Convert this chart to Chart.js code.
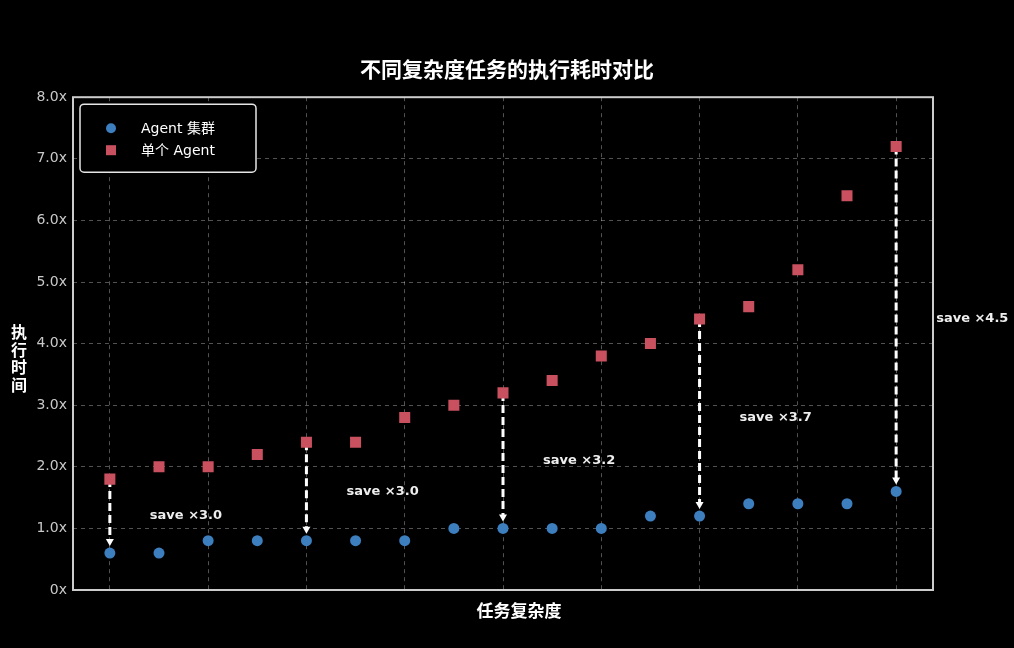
<!DOCTYPE html>
<html>
<head>
<meta charset="utf-8">
<script src="https://cdn.jsdelivr.net/npm/chart.js@4.4.1/dist/chart.umd.min.js"></script>
<style>
  html, body { margin: 0; padding: 0; background: #000; }
  #wrap { width: 1014px; height: 648px; }
</style>
</head>
<body>
<div id="wrap"><canvas id="timecmp"></canvas></div>
<script>
// task index (complexity order)
const tasks = [0, 1, 2, 3, 4, 5, 6, 7, 8, 9, 10, 11, 12, 13, 14, 15, 16];
const clusterTime = [0.6, 0.6, 0.8, 0.8, 0.8, 0.8, 0.8, 1.0, 1.0, 1.0, 1.0, 1.2, 1.2, 1.4, 1.4, 1.4, 1.6];
const singleTime = [1.8, 2.0, 2.0, 2.2, 2.4, 2.4, 2.8, 3.0, 3.2, 3.4, 3.8, 4.0, 4.4, 4.6, 5.2, 6.4, 7.2];
const arrowAt = [0, 4, 8, 12, 16];
const saveLabels = ["save ×3.0", "save ×3.0", "save ×3.2", "save ×3.7", "save ×4.5"];
const gridTicks = [0, 2, 4, 6, 8, 10, 12, 14, 16];

const BLUE = "#3d7ebf";
const RED = "#c9505f";
const CJK = "'DejaVu Sans', 'Noto Sans CJK SC', sans-serif";

const overlay = {
  id: "overlay",
  beforeDraw(chart) {
    const c = chart.ctx;
    c.save();
    c.fillStyle = "#000";
    c.fillRect(0, 0, chart.width, chart.height);
    c.restore();
  },
  beforeDatasetsDraw(chart) {
    const c = chart.ctx;
    const xs = chart.scales.x, ys = chart.scales.y;
    c.save();
    arrowAt.forEach(function (i, k) {
      const x = xs.getPixelForValue(tasks[i]);
      const y0 = ys.getPixelForValue(singleTime[i]);
      const y1 = ys.getPixelForValue(clusterTime[i]) - 7;
      c.strokeStyle = "#fff";
      c.lineWidth = 3;
      c.setLineDash([8, 4]);
      c.beginPath();
      c.moveTo(x, y0);
      c.lineTo(x, y1 - 5);
      c.stroke();
      c.setLineDash([]);
      c.fillStyle = "#fff";
      c.beginPath();
      c.moveTo(x - 4, y1 - 7);
      c.lineTo(x + 4, y1 - 7);
      c.lineTo(x, y1);
      c.closePath();
      c.fill();
      // ratio label
      const ym = ys.getPixelForValue((singleTime[i] + clusterTime[i]) / 2);
      c.font = "bold 13px 'DejaVu Sans', sans-serif";
      c.fillStyle = "#eeeeee";
      c.textAlign = "left";
      c.textBaseline = "middle";
      c.fillText(saveLabels[k], x + 40, ym);
    });
    c.restore();
  },
  afterDraw(chart) {
    const c = chart.ctx;
    const a = chart.chartArea;
    c.save();
    // frame
    c.strokeStyle = "#cccccc";
    c.lineWidth = 2;
    c.strokeRect(a.left, a.top, a.right - a.left, a.bottom - a.top);
    // axis titles
    c.font = "bold 17px 'Noto Sans CJK SC', sans-serif";
    c.fillStyle = "#fff";
    c.textAlign = "center";
    c.textBaseline = "middle";
    c.fillText("任务复杂度", 519, 611);
    c.font = "bold 16px 'Noto Sans CJK SC', sans-serif";
    ["执", "行", "时", "间"].forEach(function (ch, j) {
      c.fillText(ch, 19, 332 + j * 17.5);
    });
    // legend
    const lx = a.left + 7, ly = a.top + 7, lw = 176, lh = 68;
    c.fillStyle = "#000";
    c.strokeStyle = "#e6e6e6";
    c.lineWidth = 1.5;
    c.beginPath();
    c.roundRect(lx, ly, lw, lh, 4);
    c.fill();
    c.stroke();
    c.fillStyle = BLUE;
    c.beginPath();
    c.arc(lx + 31, ly + 24, 5, 0, Math.PI * 2);
    c.fill();
    c.fillStyle = RED;
    c.fillRect(lx + 26, ly + 41, 10, 10);
    c.font = "14px " + CJK;
    c.fillStyle = "#fff";
    c.textAlign = "left";
    c.fillText(chart.data.datasets[0].label, lx + 61, ly + 25);
    c.fillText(chart.data.datasets[1].label, lx + 61, ly + 47);
    c.restore();
  }
};

const chart = new Chart(document.getElementById("timecmp"), {
  type: "scatter",
  data: {
    datasets: [
      {
        label: "Agent 集群",
        data: tasks.map((t, i) => ({ x: t, y: clusterTime[i] })),
        backgroundColor: BLUE,
        borderWidth: 0,
        pointStyle: "circle",
        pointRadius: 5.5,
        pointHoverRadius: 5.5,
      },
      {
        label: "单个 Agent",
        data: tasks.map((t, i) => ({ x: t, y: singleTime[i] })),
        backgroundColor: RED,
        borderWidth: 0,
        pointStyle: "rect",
        pointRadius: 7.8,
        pointHoverRadius: 7.8,
      },
    ],
  },
  options: {
    responsive: true,
    maintainAspectRatio: false,
    animation: false,
    layout: { padding: { left: 0, right: 0, top: 46, bottom: 0 } },
    plugins: {
      legend: { display: false },
      tooltip: { enabled: false },
      title: {
        display: true,
        text: "不同复杂度任务的执行耗时对比",
        color: "#fff",
        font: { family: "'Noto Sans CJK SC', sans-serif", size: 21, weight: "bold" },
        padding: { top: 10, bottom: 16 },
      },
    },
    scales: {
      x: {
        type: "linear",
        min: -0.75,
        max: 16.75,
        afterBuildTicks: function (scale) {
          scale.ticks = gridTicks.map((v) => ({ value: v }));
        },
        afterFit: function (scale) {
          scale.height = 58;
        },
        ticks: { display: false },
        grid: { color: "rgba(255,255,255,0.32)", lineWidth: 1, drawTicks: false },
        border: { display: false, dash: [4, 4] },
      },
      y: {
        min: 0,
        max: 8,
        afterFit: function (scale) {
          scale.width = 73;
        },
        ticks: {
          stepSize: 1,
          color: "#c8c8c8",
          padding: 6,
          font: { family: "'DejaVu Sans', sans-serif", size: 14 },
          callback: function (v) {
            return v === 0 ? "0x" : v.toFixed(1) + "x";
          },
        },
        grid: { color: "rgba(255,255,255,0.32)", lineWidth: 1, drawTicks: false },
        border: { display: false, dash: [4, 4] },
      },
      // empty right gutter so the title centres over the plot
      gutter: {
        type: "linear",
        position: "right",
        afterFit: function (scale) {
          scale.width = 81;
        },
        ticks: { display: false },
        grid: { display: false },
        border: { display: false },
      },
    },
  },
  plugins: [overlay],
});
</script>
</body>
</html>
